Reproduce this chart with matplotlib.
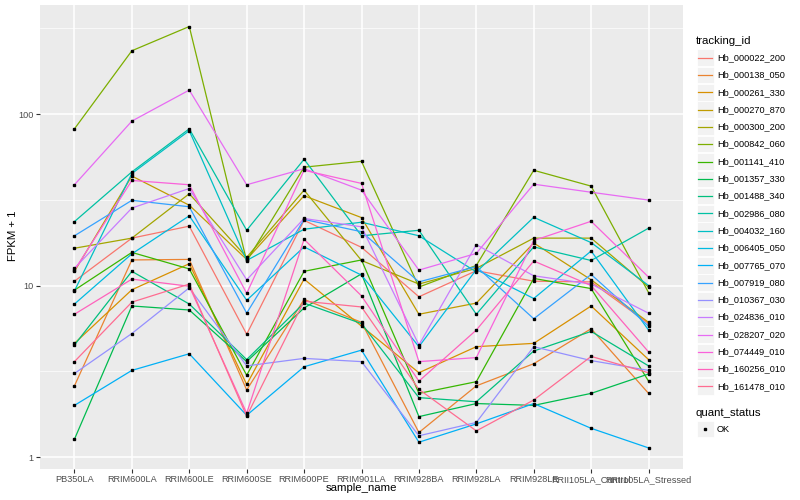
import numpy as np
import matplotlib.pyplot as plt
from matplotlib.patches import Rectangle
from matplotlib.ticker import FixedLocator, NullFormatter

plt.rcParams['font.family'] = ['Liberation Sans', 'DejaVu Sans']

samples = ['PB350LA', 'RRIM600LA', 'RRIM600LE', 'RRIM600SE', 'RRIM600PE', 'RRIM901LA',
           'RRIM928BA', 'RRIM928LA', 'RRIM928LE', 'RRII105LA_Control', 'RRII105LA_Stressed']

tracking_ids = ['Hb_000022_200', 'Hb_000138_050', 'Hb_000261_330', 'Hb_000270_870',
                'Hb_000300_200', 'Hb_000842_060', 'Hb_001141_410', 'Hb_001357_330',
                'Hb_001488_340', 'Hb_002986_080', 'Hb_004032_160', 'Hb_006405_050',
                'Hb_007765_070', 'Hb_007919_080', 'Hb_010367_030', 'Hb_024836_010',
                'Hb_028207_020', 'Hb_074449_010', 'Hb_160256_010', 'Hb_161478_010']

colors = ['#F8766D', '#EA8331', '#D89000', '#C09B00', '#A3A500', '#7CAE00', '#39B600',
          '#00BB4E', '#00BF7D', '#00C1A3', '#00BFC4', '#00BAE0', '#00B0F6', '#35A2FF',
          '#9590FF', '#C77CFF', '#E76BF3', '#FA62DB', '#FF62BC', '#FF6C91']

# FPKM + 1, one row per tracking_id, one column per sample
fpkm = [
    [10.6, 18.9, 22.2, 5.2, 24.0, 16.7, 8.6, 12.2, 10.6, 10.5, 6.0],
    [2.6, 14.1, 14.2, 2.46, 8.3, 6.1, 1.39, 2.6, 3.5, 5.6, 2.35],
    [4.6, 9.45, 13.4, 2.65, 10.9, 5.8, 3.1, 4.4, 4.6, 7.6, 3.7],
    [12.1, 43.5, 29.4, 14.2, 33.4, 24.9, 6.8, 7.9, 17.7, 10.8, 6.1],
    [16.5, 18.9, 34.3, 14.6, 36.0, 14.0, 10.2, 12.6, 18.9, 18.9, 9.8],
    [82.0, 234.0, 324.0, 13.9, 49.0, 53.0, 9.8, 13.1, 47.0, 38.0, 9.1],
    [9.4, 15.6, 12.5, 3.0, 12.1, 14.1, 2.35, 2.75, 11.0, 9.6, 2.77],
    [1.27, 7.6, 7.2, 3.6, 7.4, 11.7, 1.72, 2.05, 2.0, 2.35, 3.05],
    [4.5, 12.1, 7.8, 3.7, 7.9, 6.0, 2.22, 2.1, 4.15, 5.4, 3.4],
    [23.6, 46.0, 82.0, 21.0, 54.5, 19.5, 21.0, 6.8, 16.8, 14.0, 21.6],
    [9.3, 45.0, 80.0, 14.0, 21.3, 23.4, 19.5, 12.0, 25.0, 17.8, 10.0],
    [7.8, 15.3, 25.5, 8.2, 16.8, 11.5, 4.4, 12.4, 8.4, 15.9, 5.5],
    [2.0, 3.2, 4.0, 1.75, 3.36, 4.2, 1.22, 1.56, 2.05, 1.47, 1.13],
    [19.5, 31.4, 28.8, 6.9, 24.3, 20.6, 10.5, 12.9, 6.4, 11.6, 5.8],
    [3.07, 5.25, 9.7, 3.4, 3.76, 3.6, 1.33, 1.59, 4.4, 3.65, 3.2],
    [12.6, 28.3, 36.8, 10.8, 24.6, 22.0, 4.5, 17.3, 11.4, 10.2, 6.9],
    [38.7, 91.0, 138.0, 38.7, 48.0, 36.0, 12.3, 15.4, 39.0, 35.0, 31.5],
    [12.3, 41.0, 38.7, 9.0, 47.0, 39.4, 3.6, 3.8, 18.3, 23.7, 11.2],
    [6.8, 10.9, 9.9, 1.8, 18.6, 8.7, 2.77, 5.5, 13.9, 10.0, 4.1],
    [3.6, 8.0, 10.2, 1.73, 8.1, 7.5, 2.48, 1.42, 2.15, 3.86, 3.1],
]

W, H = 800, 500
fig = plt.figure(figsize=(W / 100, H / 100), dpi=100)
fig.patch.set_facecolor('white')

# panel in pixel units
pl, pr, pt, pb = 40, 683, 5, 468.5
ax = fig.add_axes([pl / W, 1 - pb / H, (pr - pl) / W, (pb - pt) / H])
ax.set_facecolor('#EBEBEB')

x = np.arange(len(samples))
for vals, col in zip(fpkm, colors):
    ax.plot(x, vals, color=col, lw=0.9, zorder=3)
    ax.plot(x, vals, ls='none', marker='s', ms=2.0, color='black', zorder=4)

ax.set_yscale('log')
ax.set_xlim(-0.6, len(samples) - 0.4)
ax.set_ylim(10 ** -0.067, 10 ** 2.636)
ax.yaxis.set_major_locator(FixedLocator([1, 10, 100]))
ax.yaxis.set_minor_locator(FixedLocator([10 ** 0.5, 10 ** 1.5, 10 ** 2.5]))
ax.yaxis.set_minor_formatter(NullFormatter())
ax.set_yticklabels(['1', '10', '100'])
ax.set_xticks(x)
ax.set_xticklabels(samples)

ax.grid(True, which='major', color='white', lw=1.1, zorder=0)
ax.grid(True, which='minor', axis='y', color='white', lw=0.5, zorder=0)
ax.set_axisbelow(True)
for s in ax.spines.values():
    s.set_visible(False)
ax.tick_params(which='major', length=3, width=0.8, color='#333333',
               labelsize=6.6, labelcolor='#4D4D4D', pad=1.5)
ax.tick_params(which='minor', length=0)

fig.text((pl + pr) / 2 / W, 1 - 488 / H, 'sample_name', ha='center', va='center', fontsize=8.2)
fig.text(13 / W, 1 - 236 / H, 'FPKM + 1', ha='center', va='center', rotation=90, fontsize=8.2)

# legend drawn in pixel coordinates
lg = fig.add_axes([0, 0, 1, 1])
lg.set_xlim(0, W)
lg.set_ylim(H, 0)
lg.axis('off')
lg.patch.set_alpha(0)

lg.text(696, 40.5, 'tracking_id', fontsize=8.2, va='center', ha='left')
y0, dy = 57.7, 17.3
for i, (name, col) in enumerate(zip(tracking_ids, colors)):
    yc = y0 + i * dy
    lg.add_patch(Rectangle((697, yc - 8.3), 16.6, 16.6, facecolor='#F2F2F2', edgecolor='white', lw=0.6))
    lg.plot([698, 712], [yc, yc], color=col, lw=0.9)
    lg.text(717, yc, name, fontsize=6.6, va='center', ha='left')

lg.text(696, 412.5, 'quant_status', fontsize=8.2, va='center', ha='left')
yk = 429
lg.add_patch(Rectangle((697, yk - 8.3), 16.6, 16.6, facecolor='#F2F2F2', edgecolor='white', lw=0.6))
lg.plot([705], [yk], marker='s', ms=2.0, color='black')
lg.text(717, yk, 'OK', fontsize=6.6, va='center', ha='left')

fig.savefig('out.png', dpi=100)
